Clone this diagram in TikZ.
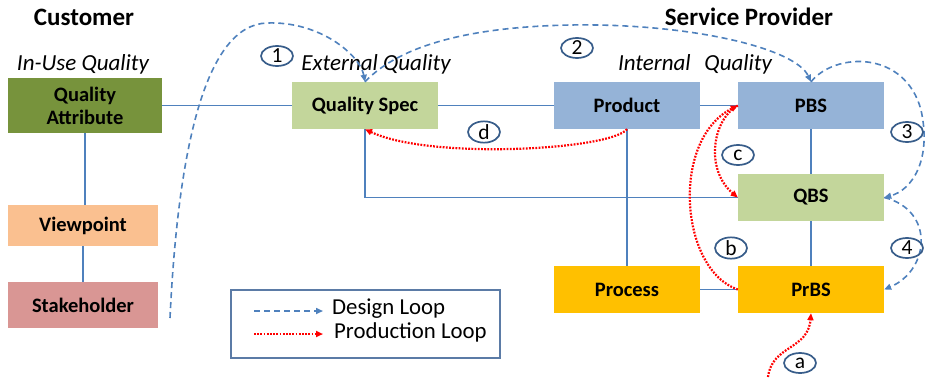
\documentclass[tikz,border=0pt]{standalone}
\usepackage{fontspec}
\setmainfont{Carlito}
\usetikzlibrary{arrows.meta,shapes.geometric}
\definecolor{linkblue}{HTML}{4F81BD}
\definecolor{ringblue}{HTML}{385D8A}
\definecolor{olivebox}{HTML}{77933C}
\definecolor{peachbox}{HTML}{FAC090}
\definecolor{rosebox}{HTML}{D99694}
\definecolor{limebox}{HTML}{C3D69B}
\definecolor{skybox}{HTML}{95B3D7}
\definecolor{amberbox}{HTML}{FFC000}
\definecolor{legendframe}{HTML}{5B7BA6}
\tikzset{
  block/.style={inner sep=0pt, minimum width=146pt, minimum height=47pt, align=center,
                font=\bfseries\fontsize{20.5}{23}\selectfont},
  heading/.style={font=\bfseries\fontsize{25}{28}\selectfont},
  qlabel/.style={font=\itshape\fontsize{23}{26}\selectfont},
  tag/.style={ellipse, draw=ringblue, line width=1.7pt, inner sep=0pt,
              minimum width=32pt, minimum height=20pt, font=\fontsize{21.5}{22}\selectfont},
  link/.style={draw=linkblue, line width=1.8pt},
  design/.style={draw=linkblue, line width=1.6pt, dash pattern=on 6pt off 4pt,
                 -{Triangle[length=7pt,width=6pt]}},
  production/.style={draw=red, line width=2.2pt, dash pattern=on 1.8pt off 1.4pt,
                 -{Triangle[length=7pt,width=6pt]}},
}
\begin{document}
\begin{tikzpicture}[x=1pt,y=-1pt]
\useasboundingbox (0,0) rectangle (928,378);

% headings and quality levels
\node[heading] (cust) at (84,17) {Customer};
\node[heading] (prov) at (749,17) {Service Provider};
\node[qlabel] (inuse) at (83,64) {In-Use Quality};
\node[qlabel] (ext) at (376,64) {External Quality};
\node[qlabel] (int) at (695,64) {Internal\hspace{0.6em}Quality};

% customer side
\node[block, fill=olivebox, minimum width=154pt, minimum height=55pt] (qa) at (85,105.5) {Quality\\Attribute};
\node[block, fill=peachbox, minimum width=150pt, minimum height=41pt] (vp) at (83,225.5) {Viewpoint};
\node[block, fill=rosebox, minimum width=150pt, minimum height=46pt] (sh) at (83,305) {Stakeholder};

% provider side
\node[block, fill=limebox] (qs) at (365,105.5) {Quality Spec};
\node[block, fill=skybox] (prod) at (627,105.5) {Product};
\node[block, fill=skybox] (pbs) at (811,105.5) {PBS};
\node[block, fill=limebox] (qbs) at (811,197.5) {QBS};
\node[block, fill=amberbox] (proc) at (627,289.5) {Process};
\node[block, fill=amberbox] (prbs) at (811,289.5) {PrBS};

% structural links
\draw[link] (qa.east) -- (qs.west);
\draw[link] (qs.east) -- (prod.west);
\draw[link] (prod.east) -- (pbs.west);
\draw[link] (qa.south) -- (qa.south |- vp.north);
\draw[link] (vp.south) -- (vp.south |- sh.north);
\draw[link] (qs.south) |- (qbs.west);
\draw[link] (prod.south) -- (proc.north);
\draw[link] (proc.east) -- (prbs.west);
\draw[link] (pbs.south) -- (qbs.north);
\draw[link] (qbs.south) -- (prbs.north);

% design loop
\coordinate (d1start) at (170,318);
\draw[design] (d1start) .. controls (178,150) and (205,25) .. (267,23)
                      .. controls (320,21) and (360,55) .. (qs.north);
\draw[design] (qs.north) .. controls (400,45) and (470,27) .. (570,25)
                      .. controls (690,23) and (795,48) .. (pbs.north);
\draw[design] (pbs.north) .. controls (835,52) and (905,50) .. (921,110)
                      .. controls (932,160) and (912,190) .. (qbs.east);
\draw[design] (qbs.east) .. controls (935,210) and (930,270) .. (prbs.east);

% production loop
\coordinate (pstart) at (768,377);
\draw[production] (pstart) .. controls (772,345) and (808,350) .. (prbs.south);
\draw[production] (prbs.west) .. controls (680,270) and (670,140) .. (pbs.west);
\draw[production] (pbs.west) .. controls (712,120) and (705,170) .. (qbs.west);
\draw[production] (prod.south) .. controls (610,150) and (430,160) .. (qs.south);

% step tags
\node[tag] (t1) at (277,56) {1};
\node[tag] (t2) at (577,48) {2};
\node[tag] (t3) at (907,132) {3};
\node[tag] (t4) at (907,248) {4};
\node[tag] (ta) at (800,363) {a};
\node[tag] (tb) at (731,248) {b};
\node[tag] (tc) at (738,155) {c};
\node[tag] (td) at (484,132) {d};

% legend
\node[draw=legendframe, line width=1.4pt, minimum width=269pt, minimum height=68pt, inner sep=0pt] (legend) at (365.5,324) {};
\coordinate (l1a) at (254,311);
\coordinate (l1b) at (323,311);
\coordinate (l2a) at (254,334);
\coordinate (l2b) at (323,334);
\draw[design] (l1a) -- (l1b);
\draw[production] (l2a) -- (l2b);
\node[anchor=west, font=\fontsize{22.8}{24}\selectfont, inner sep=0pt] (lt1) at (332,309) {Design Loop};
\node[anchor=west, font=\fontsize{22.8}{24}\selectfont, inner sep=0pt] (lt2) at (334,332) {Production Loop};
\end{tikzpicture}
\end{document}
